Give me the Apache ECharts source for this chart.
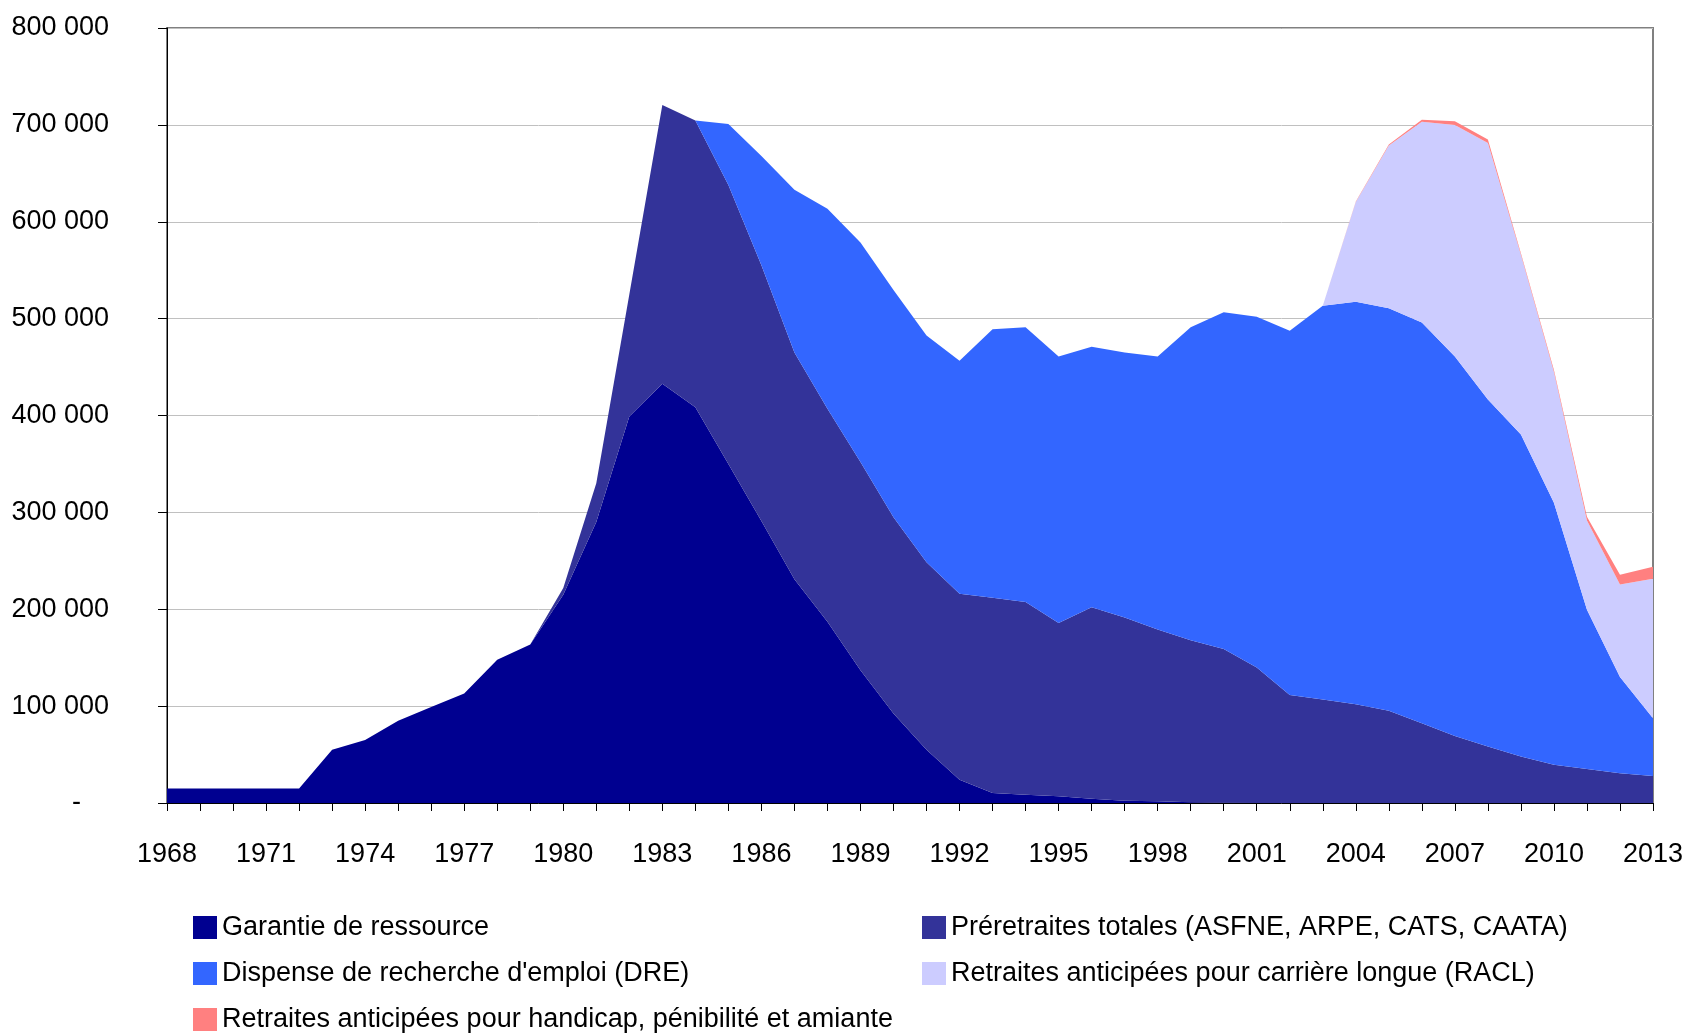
<!DOCTYPE html>
<html>
<head>
<meta charset="utf-8">
<title>Préretraites et retraites anticipées</title>
<script src="https://cdn.jsdelivr.net/npm/echarts@6/dist/echarts.min.js"></script>
<style>
  html, body { margin: 0; padding: 0; background: #fff; }
  #chart { width: 1686px; height: 1036px; }
</style>
</head>
<body>
<div id="chart"></div>
<script>
// years on the x axis
const years = []
for (let y = 1968; y <= 2013; y++) years.push(String(y))

// values (number of people)
const garantie = [
  15000, 15000, 15000, 15000, 15000, 55000, 65000, 85000, 99000, 113000,
  148000, 163500, 215000, 290000, 399000, 432700, 408600, 350000, 291000, 231000,
  187000, 137000, 92500, 55000, 24000, 10300, 8600, 6900, 4500, 2400,
  1700, 700, 300, 0, 0, 0, 0, 0, 0, 0,
  0, 0, 0, 0, 0, 0
]
const preretraites = [
  0, 0, 0, 0, 0, 0, 0, 0, 0, 0,
  0, 0, 7000, 40000, 126000, 287700, 295800, 288000, 264000, 234000,
  220000, 215000, 202500, 193500, 192000, 201700, 198800, 179000, 197500, 189000,
  177300, 167300, 158700, 140000, 111400, 106900, 102000, 95300, 82200, 69200,
  58200, 48000, 39400, 35000, 30800, 28000
]
const dre = [
  0, 0, 0, 0, 0, 0, 0, 0, 0, 0,
  0, 0, 0, 0, 0, 0, 0, 63000, 113000, 168000,
  206500, 226500, 234500, 234000, 240500, 277000, 283600, 275000, 269000, 273700,
  282000, 323000, 347500, 362000, 376000, 406500, 415500, 415400, 413800, 391800,
  358200, 332400, 270600, 164500, 99200, 59400
]
const racl = [
  0, 0, 0, 0, 0, 0, 0, 0, 0, 0,
  0, 0, 0, 0, 0, 0, 0, 0, 0, 0,
  0, 0, 0, 0, 0, 0, 0, 0, 0, 0,
  0, 0, 0, 0, 0, 0, 102900, 168000, 207300, 239000,
  265000, 185600, 135000, 92000, 95500, 144000
]
const handicap = [
  0, 0, 0, 0, 0, 0, 0, 0, 0, 0,
  0, 0, 0, 0, 0, 0, 0, 0, 0, 0,
  0, 0, 0, 0, 0, 0, 0, 0, 0, 0,
  0, 0, 0, 0, 0, 0, 500, 1000, 2000, 3700,
  3400, 1500, 2000, 4000, 10000, 12500
]

const names = [
  'Garantie de ressource',
  'Préretraites totales (ASFNE, ARPE, CATS, CAATA)',
  'Dispense de recherche d\'emploi (DRE)',
  'Retraites anticipées pour carrière longue (RACL)',
  'Retraites anticipées pour handicap, pénibilité et amiante'
]
const colors = ['#000090', '#333399', '#3366FF', '#CCCCFF', '#FF8080']
// where each legend entry sits: [left, top]
const legendPos = [[193, 914], [922, 914], [193, 960], [922, 960], [193, 1006]]
const font = '"Liberation Sans", Arial, sans-serif'
const fontSize = 27

function areaSeries(name, data, color) {
  return {
    name: name,
    type: 'line',
    stack: 'total',
    data: data,
    showSymbol: false,
    symbol: 'none',
    lineStyle: { width: 0 },
    itemStyle: { color: color },
    areaStyle: { color: color, opacity: 1 },
    emphasis: { disabled: true }
  }
}

// one legend per entry so the two columns line up like the original
const legends = names.map((name, i) => {
  return {
    left: legendPos[i][0],
    top: legendPos[i][1],
    padding: 0,
    itemWidth: 24,
    itemHeight: 23,
    icon: 'rect',
    selectedMode: false,
    textStyle: { fontFamily: font, fontSize: fontSize, color: '#000', lineHeight: 23 },
    data: [name]
  }
})

const chart = echarts.init(document.getElementById('chart'))
chart.setOption({
  animation: false,
  grid: {
    left: 167,
    right: 33,
    top: 28,
    bottom: 233,
    show: true,
    borderColor: '#808080',
    borderWidth: 2,
    outerBoundsMode: 'none'
  },
  legend: legends,
  xAxis: {
    type: 'category',
    boundaryGap: false,
    data: years,
    axisLine: { lineStyle: { color: '#000', width: 1 } },
    axisTick: { show: true, interval: 0, length: 8, lineStyle: { color: '#000' } },
    axisLabel: {
      interval: 2,
      margin: 38,
      fontFamily: font,
      fontSize: fontSize,
      color: '#000'
    },
    splitLine: { show: false }
  },
  yAxis: {
    type: 'value',
    min: 0,
    max: 800000,
    interval: 100000,
    axisLine: { show: true, lineStyle: { color: '#000', width: 1 } },
    axisTick: { show: true, length: 9, lineStyle: { color: '#000' } },
    axisLabel: {
      margin: 58,
      fontFamily: font,
      fontSize: fontSize,
      color: '#000',
      formatter: function (v) {
        if (v === 0) return '{d|-}'
        return (v / 1000) + ' 000'
      },
      rich: {
        d: { fontFamily: font, fontSize: fontSize, color: '#000', padding: [0, 28, 0, 0] }
      }
    },
    splitLine: { show: true, lineStyle: { color: '#C0C0C0', width: 1 } }
  },
  series: [
    areaSeries(names[0], garantie, colors[0]),
    areaSeries(names[1], preretraites, colors[1]),
    areaSeries(names[2], dre, colors[2]),
    areaSeries(names[3], racl, colors[3]),
    areaSeries(names[4], handicap, colors[4])
  ]
})
</script>
</body>
</html>
